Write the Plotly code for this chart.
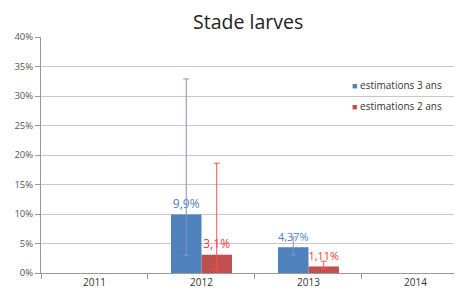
import plotly.graph_objects as go

years = ["2011", "2012", "2013", "2014"]
est3 = [None, 9.9, 4.37, None]
est3_hi = [None, 32.9, 6.1, None]
est3_lo = [None, 3.0, 3.05, None]
est2 = [None, 3.1, 1.11, None]
est2_hi = [None, 18.6, 2.0, None]
est2_lo = [None, 0.5, 0.7, None]
lab3 = ["", "9,9%", "4,37%", ""]
lab2 = ["", "3,1%", "1,11%", ""]
series_names = ["estimations 3 ans", "estimations 2 ans"]
series_colors = ["#4F81BD", "#C0504D"]

def up(v, h):
    return [None if a is None else b - a for a, b in zip(v, h)]

def dn(v, l):
    return [None if a is None else a - b for a, b in zip(v, l)]

fig = go.Figure()
fig.add_trace(go.Bar(
    x=years, y=est3, name=series_names[0], showlegend=False,
    marker=dict(color=series_colors[0], line=dict(width=0)),
    text=lab3, textposition="outside", cliponaxis=False,
    textfont=dict(color="#4F81BD", size=12, family="Open Sans"),
    error_y=dict(type="data", symmetric=False, array=up(est3, est3_hi),
                 arrayminus=dn(est3, est3_lo), color="#7F96C0", thickness=1, width=3),
))
fig.add_trace(go.Bar(
    x=years, y=est2, name=series_names[1], showlegend=False,
    marker=dict(color=series_colors[1], line=dict(width=0)),
    text=lab2, textposition="outside", cliponaxis=False,
    textfont=dict(color="#FF3333", size=12, family="Open Sans"),
    error_y=dict(type="data", symmetric=False, array=up(est2, est2_hi),
                 arrayminus=dn(est2, est2_lo), color="#FF5050", thickness=1, width=3),
))

# legend drawn as annotations (small square + label), placed in paper coords
for i, (nm, col) in enumerate(zip(series_names, series_colors)):
    fig.add_annotation(
        xref="paper", yref="paper", x=0.733, y=0.797 - i * 0.0905,
        xanchor="left", yanchor="middle", showarrow=False,
        text=f"<span style='color:{col};font-size:9px'>■</span> {nm}",
        font=dict(size=10, color="#333", family="Open Sans"),
    )

fig.update_layout(
    width=454, height=286,
    margin=dict(l=33, r=0, t=29, b=21, autoexpand=False),
    paper_bgcolor="white", plot_bgcolor="white",
    barmode="group", bargap=0.43, bargroupgap=0,
    title=dict(text="Stade larves", x=0.529, xanchor="center", y=0.95, yanchor="middle",
               font=dict(size=19.5, color="#222", family="Open Sans")),
    font=dict(family="Open Sans", color="#444"),
    showlegend=False,
)
fig.update_xaxes(
    type="category", range=[-0.5, 3.435], automargin=False,
    showline=True, linecolor="#999", linewidth=1,
    ticks="outside", tickson="boundaries", ticklen=5, tickcolor="#999",
    tickfont=dict(size=10, color="#333"), showgrid=False,
)
fig.update_yaxes(
    range=[0, 40], dtick=5, ticksuffix="%", automargin=False,
    showline=True, linecolor="#999", linewidth=1,
    ticks="outside", ticklen=5, tickcolor="#999",
    showgrid=True, gridcolor="#C8C8C8", gridwidth=1,
    tickfont=dict(size=9.5, color="#555"), zeroline=False,
)
fig.write_html("out.html")
